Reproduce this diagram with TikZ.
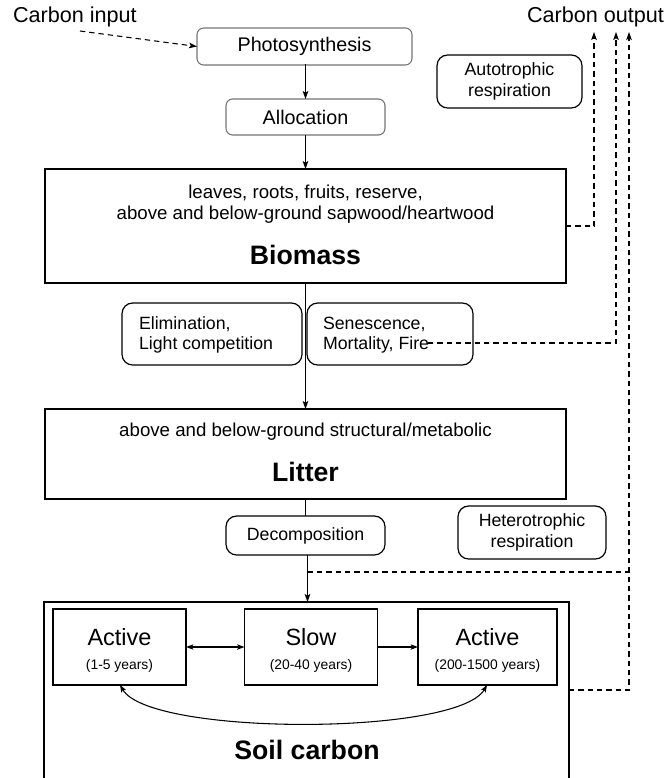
\documentclass[tikz,border=0pt]{standalone}
\usepackage{fontspec}
\setmainfont{Liberation Sans}
\usetikzlibrary{arrows.meta,calc}
\begin{document}
\begin{tikzpicture}[x=0.75pt,y=-0.75pt,
  every node/.style={inner sep=0pt, outer sep=0pt},
  graybox/.style={draw=black!55, line width=0.8pt, rounded corners=5pt},
  roundbox/.style={draw=black, line width=0.9pt, rounded corners=8pt},
  bigbox/.style={draw=black, line width=1pt},
  poolbox/.style={draw=black, line width=0.9pt},
  conn/.style={line width=0.8pt, -{Stealth[length=6pt,width=4.2pt,inset=1.3pt]}},
  dconn/.style={line width=0.8pt, dash pattern=on 4pt off 3pt},
  dconnarr/.style={dconn, -{Stealth[length=6pt,width=4.2pt,inset=1.3pt]}},
  plainline/.style={line width=0.8pt},
  bigtxt/.style={font=\fontsize{16.2}{19}\selectfont},
  bodytxt/.style={font=\fontsize{14}{16.5}\selectfont},
  proctxt/.style={font=\fontsize{14.8}{17}\selectfont},
  smalltxt/.style={font=\fontsize{13.3}{15.5}\selectfont, align=center},
  titletxt/.style={font=\fontsize{20}{24}\selectfont\bfseries},
  pooltxt/.style={font=\fontsize{17.6}{20}\selectfont},
  yeartxt/.style={font=\fontsize{10.4}{12}\selectfont}
]
\useasboundingbox (0,0) rectangle (667,778);

% labels
\node[bigtxt, anchor=west] (cin) at (13,17) {Carbon input};
\node[bigtxt, anchor=west] (cout) at (527,17) {Carbon output};

% process boxes
\node[graybox, proctxt, minimum width={215*0.75pt}, minimum height={37*0.75pt}] (photo) at (304.5,46.5) {Photosynthesis};
\node[graybox, proctxt, minimum width={159*0.75pt}, minimum height={36*0.75pt}] (alloc) at (305.5,117) {Allocation};
\node[roundbox, smalltxt, minimum width={145*0.75pt}, minimum height={53*0.75pt}] (auto) at (509.5,81.5) {Autotrophic\\respiration};

% biomass
\node[bigbox, minimum width={521*0.75pt}, minimum height={114*0.75pt}] (bio) at (305.5,226) {};
\node[bodytxt] (bio1) at (305.5,193) {leaves, roots, fruits, reserve,};
\node[bodytxt] (bio2) at (305.5,215) {above and below-ground sapwood/heartwood};
\node[titletxt] (biot) at (305.5,255) {Biomass};

% elimination / senescence
\node[roundbox, minimum width={180*0.75pt}, minimum height={62*0.75pt}] (elim) at (212,334) {};
\node[smalltxt, align=left, anchor=west] (elimt) at (139,335) {Elimination,\\Light competition};
\node[roundbox, minimum width={166*0.75pt}, minimum height={62*0.75pt}] (sen) at (390,334) {};
\node[smalltxt, align=left, anchor=west] (sent) at (323,335) {Senescence,\\Mortality, Fire};

% litter
\node[bigbox, minimum width={521*0.75pt}, minimum height={90*0.75pt}] (lit) at (305.5,454) {};
\node[bodytxt] (lit1) at (305.5,432) {above and below-ground structural/metabolic};
\node[titletxt] (litt) at (305.5,472) {Litter};

% decomposition / heterotrophic
\node[roundbox, smalltxt, minimum width={159*0.75pt}, minimum height={39*0.75pt}] (decomp) at (305.5,535.5) {Decomposition};
\node[roundbox, smalltxt, minimum width={148*0.75pt}, minimum height={53*0.75pt}] (het) at (532,532.5) {Heterotrophic\\respiration};

% soil carbon (box runs past the bottom edge)
\node[bigbox, minimum width={525*0.75pt}, minimum height={190*0.75pt}, anchor=north west] (soil) at (44,602) {};
\node[titletxt] (soilt) at (307,750) {Soil carbon};

% pools
\node[poolbox, minimum width={133*0.75pt}, minimum height={76*0.75pt}] (a1) at (119.5,647) {};
\node[pooltxt] (a1t) at (119.5,637) {Active};
\node[yeartxt] (a1y) at (119.5,666) {(1-5 years)};
\node[poolbox, minimum width={133*0.75pt}, minimum height={76*0.75pt}] (slow) at (311,647) {};
\node[pooltxt] (slowt) at (311,637) {Slow};
\node[yeartxt] (slowy) at (311,666) {(20-40 years)};
\node[poolbox, minimum width={139*0.75pt}, minimum height={76*0.75pt}] (a2) at (487.5,647) {};
\node[pooltxt] (a2t) at (487.5,637) {Active};
\node[yeartxt] (a2y) at (487.5,666) {(200-1500 years)};

% coordinates for free ends
\coordinate (inStart) at (80,31);
\coordinate (out1) at (594,32);
\coordinate (out2) at (616,32);
\coordinate (out3) at (629,32);
\coordinate (fireEnd) at (428,343);

% solid flow
\draw[conn] (photo.south) -- (alloc.south |- photo.south) -- (alloc.north);
\draw[conn] (alloc.south) -- (alloc.south |- bio.north);
\draw[conn] (bio.south) -- (bio.south |- lit.north);
\draw[plainline] (lit.south) -- (decomp.north);
\draw[conn] ([xshift=1.5pt]decomp.south) -- ([xshift=1.5pt]decomp.south |- soil.north);

% pools arrows
\draw[line width=0.8pt, {Stealth[length=5.5pt,width=4pt,inset=1.2pt]}-{Stealth[length=5.5pt,width=4pt,inset=1.2pt]}] (a1.east) -- (slow.west);
\draw[line width=0.8pt, -{Stealth[length=5.5pt,width=4pt,inset=1.2pt]}] (slow.east) -- (a2.west);
\draw[line width=0.8pt, {Stealth[length=5.5pt,width=4pt,inset=1.2pt]}-{Stealth[length=5.5pt,width=4pt,inset=1.2pt]}] (a1.south -| 120,0) .. controls (150,736) and (457,736) .. (a2.south -| 487,0);

% dashed carbon flows
\draw[dconnarr] (inStart) -- (photo.west);
\draw[dconnarr] (bio.east) -- (out1 |- bio.east) -- (out1);
\draw[dconnarr] (fireEnd) -- (out2 |- fireEnd) -- (out2);
\draw[dconn] ([xshift=1.5pt]decomp.south |- 0,572) -- (629,572);
\draw[dconnarr] (soil.east |- 0,690) -- (out3 |- 0,690) -- (out3);
\end{tikzpicture}
\end{document}
